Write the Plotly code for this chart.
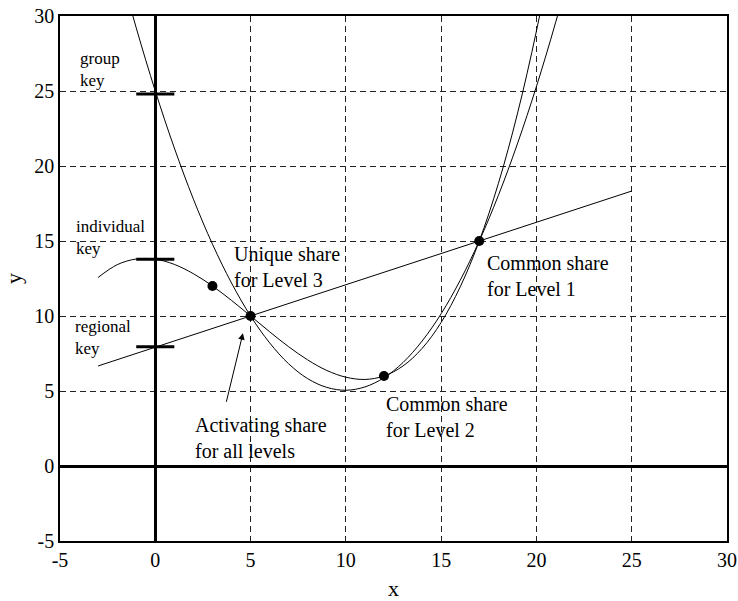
import plotly.graph_objects as go

# ---- data ----
x_curve = [-3, -2, -1, 0, 1, 2, 3, 4, 5, 6, 7, 8, 9, 10, 11, 12, 13, 14, 15, 16, 17, 18, 19, 20, 21, 22]
y_cubic = [12.57, 13.42, 13.80, 13.79, 13.44, 12.82, 12.0, 11.04, 10.0, 8.95, 7.95, 7.07, 6.37, 5.92, 5.77,
           6.0, 6.67, 7.84, 9.57, 11.94, 15.0, 18.82, 23.47, 29.0, 35.49, 43.0]
y_parab = [38.6, 33.81, 29.21, 25.0, 21.20, 17.79, 14.79, 12.20, 10.0, 8.21, 6.81, 5.82, 5.24, 5.05, 5.27,
           5.88, 6.90, 8.33, 10.15, 12.38, 15.0, 18.03, 21.47, 25.3, 29.54, 34.17]
x_line = [-3, 25]
y_line = [6.67, 18.33]

x_pts = [3, 5, 12, 17]
y_pts = [12, 10, 6, 15]

key_names = ["group<br>key", "individual<br>key", "regional<br>key"]
key_y = [24.8, 13.78, 7.95]
key_label_y = [26.45, 15.25, 8.55]
key_label_x = [-4.05, -4.27, -4.3]

share_labels = ["Unique share<br>for Level 3", "Common share<br>for Level 1",
                "Common share<br>for Level 2", "Activating share<br>for all levels"]
share_x = [4.0, 17.3, 12.0, 2.0]
share_y = [13.3, 12.7, 3.3, 1.9]

x_ticks = [-5, 0, 5, 10, 15, 20, 25, 30]
y_ticks = [-5, 0, 5, 10, 15, 20, 25, 30]

FONT = "Liberation Serif"

fig = go.Figure()
fig.add_trace(go.Scatter(x=x_curve[1:], y=y_parab[1:], mode="lines",
                         line=dict(color="black", width=1, shape="spline"), hoverinfo="skip"))
fig.add_trace(go.Scatter(x=x_curve, y=y_cubic, mode="lines",
                         line=dict(color="black", width=1, shape="spline"), hoverinfo="skip"))
fig.add_trace(go.Scatter(x=x_line, y=y_line, mode="lines",
                         line=dict(color="black", width=1), hoverinfo="skip"))
for ky in key_y:
    fig.add_trace(go.Scatter(x=[-1, 1], y=[ky, ky], mode="lines",
                             line=dict(color="black", width=3), hoverinfo="skip"))
fig.add_trace(go.Scatter(x=x_pts, y=y_pts, mode="markers",
                         marker=dict(color="black", size=10), hoverinfo="skip"))

for name, lx, ly in zip(key_names, key_label_x, key_label_y):
    fig.add_annotation(x=lx, y=ly, text=name, showarrow=False, xanchor="left", yanchor="middle",
                       align="left", font=dict(family=FONT, size=17, color="black"))
for name, lx, ly in zip(share_labels, share_x, share_y):
    fig.add_annotation(x=lx, y=ly, text=name, showarrow=False, xanchor="left", yanchor="middle",
                       align="left", font=dict(family=FONT, size=20, color="black"))

# arrow for "Activating share"
fig.add_annotation(x=4.6, y=8.85, ax=3.71, ay=4.18, xref="x", yref="y", axref="x", ayref="y",
                   text="", showarrow=True, arrowhead=2, arrowsize=1.3, arrowwidth=1, arrowcolor="black")

axis_common = dict(showgrid=True, gridcolor="#222", griddash="6px,4px", gridwidth=1,
                   zeroline=True, zerolinecolor="black", zerolinewidth=3,
                   showline=True, linecolor="black", linewidth=1.5, mirror=True,
                   ticks="", automargin=False, ticklabeloverflow="allow",
                   tickfont=dict(family=FONT, size=20, color="black"))

fig.update_xaxes(range=[-5, 30], tickvals=x_ticks, ticktext=[str(v) for v in x_ticks],
                 title=dict(text="x", font=dict(family=FONT, size=22, color="black"), standoff=12),
                 **axis_common)
fig.update_yaxes(range=[-5, 30], tickvals=y_ticks, ticktext=[str(v) for v in y_ticks],
                 title=dict(text="y", font=dict(family=FONT, size=22, color="black"), standoff=7),
                 **axis_common)

fig.update_layout(width=738, height=601, showlegend=False,
                  margin=dict(l=60, r=11, t=16, b=60, autoexpand=False),
                  plot_bgcolor="white", paper_bgcolor="white",
                  font=dict(family=FONT, color="black"))

# remove the default 8px page margin so the figure sits at the window's corner
fig.write_html("out.html", config={"displayModeBar": False},
               post_script="document.body.style.margin='0';document.body.style.overflow='hidden';")
